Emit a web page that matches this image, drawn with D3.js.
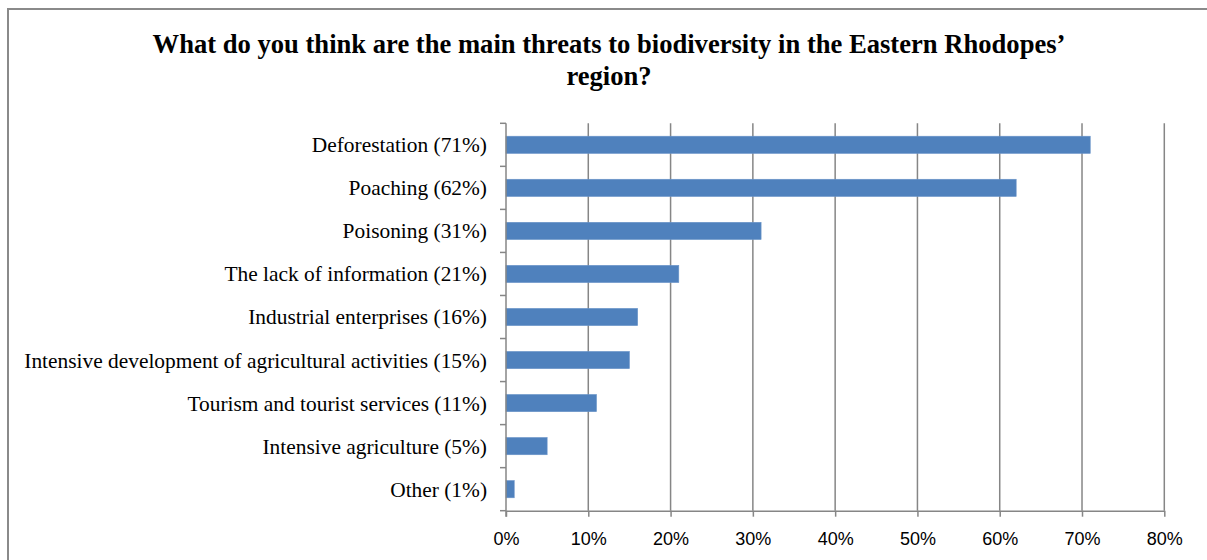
<!DOCTYPE html>
<html>
<head>
<meta charset="utf-8">
<script src="https://cdn.jsdelivr.net/npm/d3@7"></script>
<style>
  html, body { margin: 0; padding: 0; background: #fff; }
  svg { display: block; }
</style>
</head>
<body>
<svg id="chart" width="1207" height="560"></svg>
<script>
// Survey answers, top to bottom
const categories = [
  "Deforestation (71%)",
  "Poaching (62%)",
  "Poisoning (31%)",
  "The lack of information (21%)",
  "Industrial enterprises (16%)",
  "Intensive development of agricultural activities (15%)",
  "Tourism and tourist services (11%)",
  "Intensive agriculture (5%)",
  "Other (1%)"
];
const shares = [0.71, 0.62, 0.31, 0.21, 0.16, 0.15, 0.11, 0.05, 0.01];
const xTicks = [0, 0.1, 0.2, 0.3, 0.4, 0.5, 0.6, 0.7, 0.8];
const titleLines = [
  "What do you think are the main threats to biodiversity in the Eastern Rhodopes\u2019",
  "region?"
];

const svg = d3.select("#chart");
const gridColor = "#868686";

// outer frame
svg.append("rect")
  .attr("x", 8).attr("y", 9)
  .attr("width", 1260).attr("height", 600)
  .attr("fill", "none")
  .attr("stroke", "#8a8a8a")
  .attr("stroke-width", 2);

// title
svg.append("g").selectAll("text")
  .data(titleLines)
  .join("text")
  .attr("x", 609)
  .attr("y", (d, i) => 53 + i * 32)
  .attr("text-anchor", "middle")
  .attr("font-family", "'Liberation Serif', 'Times New Roman', serif")
  .attr("font-weight", "bold")
  .attr("font-size", 26.6)
  .attr("fill", "#000")
  .text(d => d);

const plot = { left: 506, right: 1164.3, top: 123.3, bottom: 510.7 };

const x = d3.scaleLinear().domain([0, 0.8]).range([plot.left, plot.right]);
const y = d3.scaleBand()
  .domain(categories)
  .range([plot.top, plot.bottom])
  .paddingInner(0.6)
  .paddingOuter(0.3);

// vertical gridlines
svg.append("g").selectAll("line")
  .data(xTicks.slice(1))
  .join("line")
  .attr("x1", d => x(d)).attr("x2", d => x(d))
  .attr("y1", plot.top).attr("y2", plot.bottom)
  .attr("stroke", gridColor)
  .attr("stroke-width", 1.5);

// bars
svg.append("g").selectAll("rect")
  .data(categories.map((c, i) => ({ c, v: shares[i] })))
  .join("rect")
  .attr("x", x(0))
  .attr("y", d => y(d.c))
  .attr("width", d => x(d.v) - x(0))
  .attr("height", y.bandwidth())
  .attr("fill", "#4f81bd")
  .attr("stroke", "#6a94c8")
  .attr("stroke-width", 0.6);

// bottom axis
const xAxis = d3.axisBottom(x)
  .tickValues(xTicks)
  .tickFormat(d3.format(".0%"))
  .tickSize(6)
  .tickSizeOuter(0)
  .tickPadding(16);
const gx = svg.append("g")
  .attr("transform", `translate(0,${plot.bottom})`)
  .call(xAxis);
gx.select(".domain").attr("stroke", gridColor).attr("stroke-width", 1.5);
gx.selectAll(".tick line").attr("stroke", gridColor).attr("stroke-width", 1.5);
gx.selectAll(".tick text")
  .attr("font-family", "'Liberation Sans', Arial, sans-serif")
  .attr("font-size", 18)
  .attr("fill", "#000");

// left axis: category labels, with tick marks on band boundaries
const gy = svg.append("g");
gy.append("line")
  .attr("x1", plot.left).attr("x2", plot.left)
  .attr("y1", plot.top).attr("y2", plot.bottom + 6)
  .attr("stroke", gridColor).attr("stroke-width", 1.5);
const step = y.step();
gy.selectAll("line.tick")
  .data(d3.range(categories.length + 1))
  .join("line")
  .attr("class", "tick")
  .attr("x1", plot.left - 6).attr("x2", plot.left)
  .attr("y1", i => plot.top + i * step)
  .attr("y2", i => plot.top + i * step)
  .attr("stroke", gridColor).attr("stroke-width", 1.5);
gy.selectAll("text")
  .data(categories)
  .join("text")
  .attr("x", 487)
  .attr("y", d => y(d) + y.bandwidth() / 2)
  .attr("dy", "0.35em")
  .attr("text-anchor", "end")
  .attr("font-family", "'Liberation Serif', 'Times New Roman', serif")
  .attr("font-size", 21.4)
  .attr("fill", "#000")
  .text(d => d);
</script>
</body>
</html>
